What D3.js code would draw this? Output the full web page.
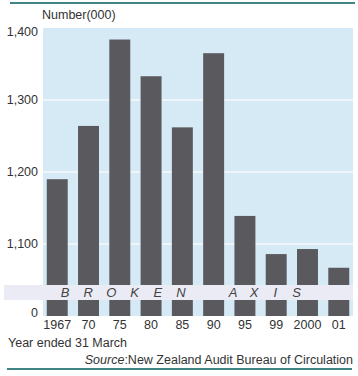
<!DOCTYPE html>
<html><head><meta charset="utf-8">
<script src="https://cdn.jsdelivr.net/npm/d3@7"></script>
<style>
html,body{margin:0;padding:0;background:#fff;}
svg{display:block;font-family:"Liberation Sans",Arial,sans-serif;}
</style></head>
<body>
<script>
const years = ["1967","70","75","80","85","90","95","99","2000","01"];
const circulation = [1190,1264,1384,1333,1262,1365,1139,1086,1093,1067];
const yTicks = [1100,1200,1300,1400];
const yTickLabels = ["1,100","1,200","1,300","1,400"];
const zeroLabel = "0";
const breakWord1 = "BROKEN";
const breakWord2 = "AXIS";

const W = 358, H = 376;
const svg = d3.select("body").append("svg").attr("width", W).attr("height", H);

const pLeft = 43, pRight = 353, pTop = 28, pBottom = 316;
const x = d3.scaleBand().domain(years).range([pLeft, pRight]).paddingInner(0.33).paddingOuter(0.12);
const y = d3.scaleLinear().domain([1000, 1400]).range([pBottom, pTop]);

// top and bottom rules
svg.append("line").attr("x1", 10).attr("x2", 355).attr("y1", 3).attr("y2", 3)
  .attr("stroke", "#3f8585").attr("stroke-width", 2);
svg.append("line").attr("x1", 7).attr("x2", 352).attr("y1", 369).attr("y2", 369)
  .attr("stroke", "#3f8585").attr("stroke-width", 2);

// plot background
svg.append("rect").attr("x", pLeft).attr("y", pTop).attr("width", pRight - pLeft).attr("height", pBottom - pTop)
  .attr("fill", "#d6eaf6");

// gridlines
svg.append("g").selectAll("line").data(yTicks.slice(0, 3)).join("line")
  .attr("x1", pLeft).attr("x2", pRight)
  .attr("y1", d => y(d)).attr("y2", d => y(d))
  .attr("stroke", "#f4f9fc").attr("stroke-width", 1.5);

// bars
svg.append("g").selectAll("rect").data(circulation).join("rect")
  .attr("x", (d, i) => x(years[i]))
  .attr("width", x.bandwidth())
  .attr("y", d => y(d))
  .attr("height", d => y(1000) - y(d))
  .attr("fill", "#5a5a5e");

// broken axis band
svg.append("rect").attr("x", 4).attr("y", 285).attr("width", pRight - 4).attr("height", 15)
  .attr("fill", "#ebebf5");
const bandG = svg.append("g").attr("font-style", "italic").attr("font-size", 13).attr("fill", "#444")
  .attr("text-anchor", "middle");
bandG.selectAll("text.w1").data(breakWord1.split("")).join("text").attr("class", "w1")
  .attr("x", (d, i) => 65 + i * 23.2).attr("y", 297).text(d => d);
bandG.selectAll("text.w2").data(breakWord2.split("")).join("text").attr("class", "w2")
  .attr("x", (d, i) => 233 + i * 21.2).attr("y", 297).text(d => d);

// y axis labels
const yl = svg.append("g").attr("font-size", 12.5).attr("fill", "#333").attr("text-anchor", "end");
yl.selectAll("text").data(yTicks).join("text")
  .attr("x", 38)
  .attr("y", (d, i) => y(d) + (d === 1400 ? 4 : 0))
  .attr("dy", "0.35em")
  .text((d, i) => yTickLabels[i]);
yl.append("text").attr("x", 38).attr("y", 313).attr("dy", "0.35em").text(zeroLabel);

// x axis labels
svg.append("g").attr("font-size", 12.5).attr("fill", "#333").attr("text-anchor", "middle")
  .selectAll("text").data(years).join("text")
  .attr("x", d => x(d) + x.bandwidth() / 2)
  .attr("y", 325).attr("dy", "0.35em").text(d => d);

// titles
svg.append("text").attr("x", 42).attr("y", 15).attr("dy", "0.35em")
  .attr("font-size", 12.5).attr("fill", "#333").text("Number(000)");
svg.append("text").attr("x", 8).attr("y", 343).attr("dy", "0.35em")
  .attr("font-size", 12.5).attr("fill", "#333").text("Year ended 31 March");
const src = svg.append("text").attr("x", 353).attr("y", 360).attr("dy", "0.35em")
  .attr("font-size", 12.5).attr("fill", "#333").attr("text-anchor", "end");
src.append("tspan").attr("font-style", "italic").text("Source");
src.append("tspan").text(":New Zealand Audit Bureau of Circulation");
</script>
</body></html>
